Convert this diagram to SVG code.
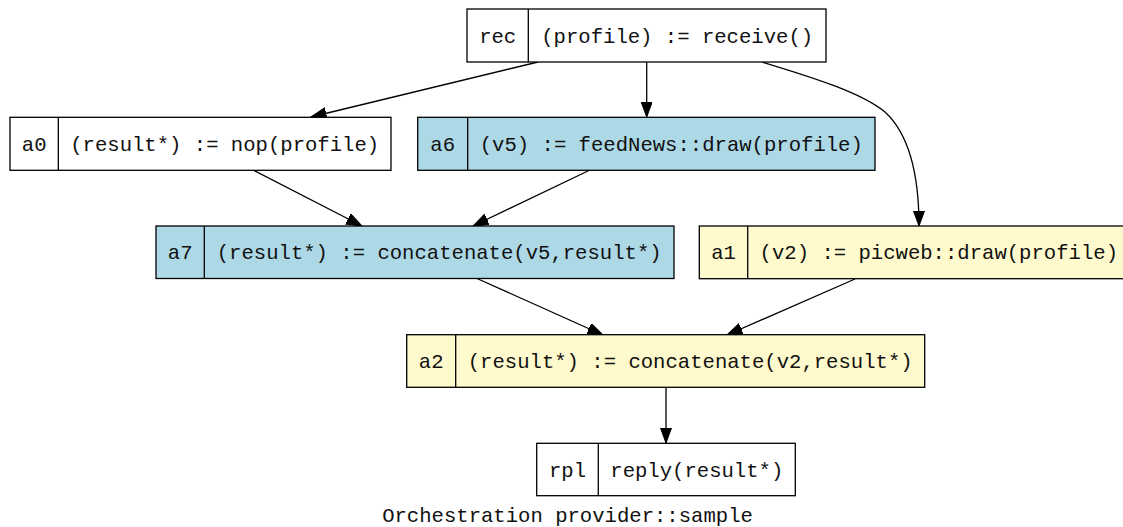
<svg xmlns="http://www.w3.org/2000/svg" width="1123" height="527" viewBox="0 0 1123 527">
<defs>
<style>
.box{stroke:#000;stroke-width:1.3}
.w{fill:#fff}
.b{fill:#add8e6}
.y{fill:#fffacd}
.div{stroke:#000;stroke-width:1.3}
text{font-family:"Liberation Mono","Courier New",monospace;font-size:20.6px;fill:#111;text-anchor:middle}
.e{fill:none;stroke:#000;stroke-width:1.3;marker-end:url(#arr)}
</style>
<marker id="arr" markerUnits="userSpaceOnUse" markerWidth="17" markerHeight="13" refX="15.5" refY="5.7" orient="auto" viewBox="0 0 17 13">
<path d="M0,0 L15.5,5.7 L0,11.4 Z" fill="#000" stroke="#000" stroke-width="1"/>
</marker>
</defs>
<rect width="1123" height="527" fill="#fff"/>
<g id="edges">
<path class="e" d="M538,62 L311,117"/>
<path class="e" d="M646.7,62 L646.7,117"/>
<path class="e" d="M762,62 C815,78 862,93 885,112 C910,135 919,175 919,226"/>
<path class="e" d="M253,170 L362,226"/>
<path class="e" d="M590,170 L473,226"/>
<path class="e" d="M477,278.5 L603,335"/>
<path class="e" d="M855,279 L727,335"/>
<path class="e" d="M666,387.5 L666,443"/>
</g>
<g id="rec">
<rect class="box w" x="467" y="9" width="359" height="53"/>
<line class="div" x1="528.3" y1="9" x2="528.3" y2="62"/>
<text x="497.7" y="42.5">rec</text>
<text x="677.2" y="42.5">(profile) := receive()</text>
</g>
<g id="a0">
<rect class="box w" x="10" y="117.3" width="381" height="53"/>
<line class="div" x1="58.3" y1="117.3" x2="58.3" y2="170.3"/>
<text x="34.2" y="150.8">a0</text>
<text x="224.7" y="150.8">(result*) := nop(profile)</text>
</g>
<g id="a6">
<rect class="box b" x="417.7" y="117.3" width="457.3" height="53"/>
<line class="div" x1="467.7" y1="117.3" x2="467.7" y2="170.3"/>
<text x="442.7" y="150.8">a6</text>
<text x="671.3" y="150.8">(v5) := feedNews::draw(profile)</text>
</g>
<g id="a7">
<rect class="box b" x="156" y="226" width="518" height="52.5"/>
<line class="div" x1="204.3" y1="226" x2="204.3" y2="278.5"/>
<text x="180.2" y="259.3">a7</text>
<text x="439.2" y="259.3">(result*) := concatenate(v5,result*)</text>
</g>
<g id="a1">
<rect class="box y" x="699.3" y="226" width="431" height="52.7"/>
<line class="div" x1="747.7" y1="226" x2="747.7" y2="278.7"/>
<text x="723.5" y="259.3">a1</text>
<text x="938.8" y="259.3">(v2) := picweb::draw(profile)</text>
</g>
<g id="a2">
<rect class="box y" x="406.7" y="334.7" width="518" height="52.6"/>
<line class="div" x1="455.7" y1="334.7" x2="455.7" y2="387.3"/>
<text x="431.2" y="368">a2</text>
<text x="690.2" y="368">(result*) := concatenate(v2,result*)</text>
</g>
<g id="rpl">
<rect class="box w" x="536.7" y="443.3" width="258.6" height="52.4"/>
<line class="div" x1="598.3" y1="443.3" x2="598.3" y2="495.7"/>
<text x="567.5" y="476.6">rpl</text>
<text x="696.8" y="476.6">reply(result*)</text>
</g>
<g id="title">
<text x="567.5" y="522">Orchestration provider::sample</text>
</g>
</svg>
